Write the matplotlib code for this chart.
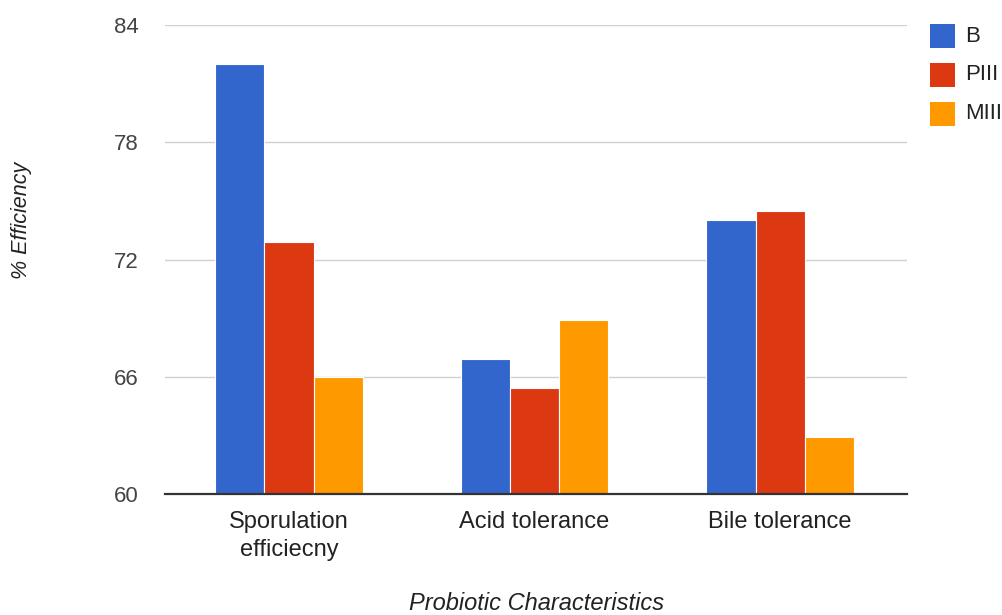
import matplotlib
matplotlib.use("Agg")
import matplotlib.pyplot as plt
from matplotlib.patches import Rectangle
import numpy as np

plt.rcParams['font.family'] = ['Liberation Sans', 'DejaVu Sans']

categories = ["Sporulation\nefficiecny", "Acid tolerance", "Bile tolerance"]
series_names = ["B", "PIII", "MIII"]
b_vals = [82.0, 66.9, 74.0]
piii_vals = [72.9, 65.4, 74.5]
miii_vals = [66.0, 68.9, 62.9]
yticks = [60, 66, 72, 78, 84]

colors = ["#3366cc", "#dc3912", "#ff9900"]

fig = plt.figure(figsize=(10.02, 6.15), dpi=100)
ax = fig.add_axes([165 / 1002, 1 - 494 / 615, 742 / 1002, 469 / 615])

x = np.arange(len(categories))
w = 0.2
for i, (name, vals) in enumerate(zip(series_names, [b_vals, piii_vals, miii_vals])):
    ax.bar(x + (i - 1) * w, np.array(vals) - 60, width=w, bottom=60,
           color=colors[i], edgecolor="white", linewidth=0.8, label=name, zorder=3)

ax.set_xlim(-0.505, 2.517)
ax.set_ylim(60, 84)
ax.set_yticks(yticks)
ax.set_yticklabels([str(t) for t in yticks])
ax.set_xticks(x)
ax.set_xticklabels(categories, linespacing=1.35)
ax.tick_params(axis="y", length=0, pad=19, labelsize=16, labelcolor="#444444")
ax.tick_params(axis="x", length=0, pad=12, labelsize=17, labelcolor="#222222")
ax.grid(axis="y", color="#d0d0d0", linewidth=1.0, zorder=0)
for s in ["top", "right", "left"]:
    ax.spines[s].set_visible(False)
ax.spines["bottom"].set_color("#333333")
ax.spines["bottom"].set_linewidth(1.6)
ax.spines["bottom"].set_zorder(4)

fig.text(537 / 1002, 1 - 603 / 615, "Probiotic Characteristics", ha="center", va="center",
         fontsize=17, style="italic", color="#222222")
fig.text(22 / 1002, 1 - 220 / 615, "% Efficiency", ha="center", va="center",
         rotation=90, fontsize=15.5, style="italic", color="#222222")

# legend drawn by hand: square swatches, 39 px pitch
for i, name in enumerate(series_names):
    top = 24 + 39 * i
    fig.patches.append(Rectangle((930 / 1002, 1 - (top + 24) / 615), 25 / 1002, 24 / 615,
                                 transform=fig.transFigure, facecolor=colors[i],
                                 edgecolor="none"))
    fig.text(965 / 1002, 1 - (top + 12) / 615, name, ha="left", va="center",
             fontsize=16, color="#222222")

fig.savefig("out.png", dpi=100)
